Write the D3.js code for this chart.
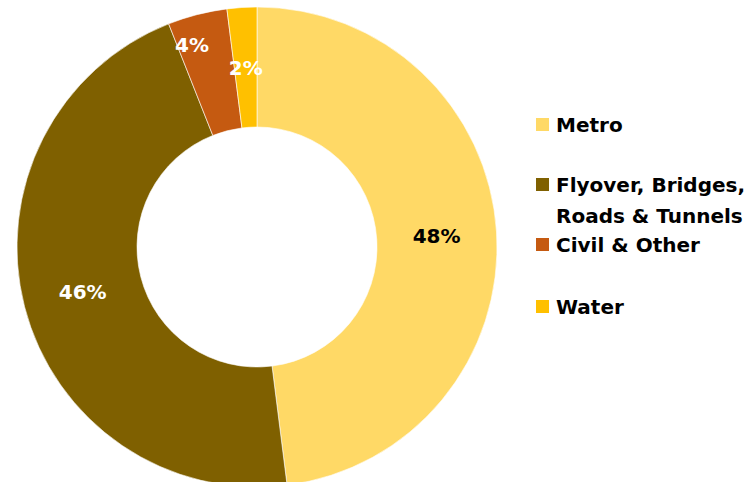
<!DOCTYPE html>
<html>
<head>
<meta charset="utf-8">
<script src="https://cdn.jsdelivr.net/npm/d3@7"></script>
<style>
  html, body { margin: 0; padding: 0; background: #fff; }
  svg { display: block; }
  text { font-family: "DejaVu Sans", sans-serif; font-weight: bold; }
</style>
</head>
<body>
<svg id="chart" width="751" height="482"></svg>
<script>
// Share of order book by segment (%)
const categories = ["Metro", "Flyover, Bridges, Roads & Tunnels", "Civil & Other", "Water"];
const values = [48, 46, 4, 2];
const colors = ["#FFD966", "#7F6000", "#C55A11", "#FFC000"];
const labelColors = ["#000000", "#ffffff", "#ffffff", "#ffffff"];
// legend text, split into lines
const legendLines = [["Metro"], ["Flyover, Bridges,", "Roads & Tunnels"], ["Civil & Other"], ["Water"]];

const svg = d3.select("#chart");
const cx = 257, cy = 247, outerR = 240, innerR = 120;

const pie = d3.pie().sort(null).value(d => d)(values);
const arc = d3.arc().innerRadius(innerR).outerRadius(outerR);

const g = svg.append("g").attr("transform", `translate(${cx},${cy})`);

g.selectAll("path.slice")
  .data(pie)
  .join("path")
  .attr("class", "slice")
  .attr("d", arc)
  .attr("fill", (d, i) => colors[i])
  .attr("stroke", "#ffffff")
  .attr("stroke-width", 0.6);

// label radius per slice: small Civil slice label sits nearer the rim
const labelR = i => (i === 2 ? 212 : 180);
g.selectAll("text.pct")
  .data(pie)
  .join("text")
  .attr("class", "pct")
  .attr("transform", (d, i) => {
    const a = (d.startAngle + d.endAngle) / 2 - (i === 2 ? 0.06 : 0);
    const r = labelR(i);
    return `translate(${r * Math.sin(a)},${-r * Math.cos(a)})`;
  })
  .attr("text-anchor", "middle")
  .attr("dy", "0.36em")
  .attr("font-size", 20)
  .attr("fill", (d, i) => labelColors[i])
  .text(d => d.data + "%");

// legend
const legendY = [125, 185, 245, 307];
const legend = svg.append("g");
categories.forEach((c, i) => {
  const row = legend.append("g").attr("transform", `translate(536,${legendY[i]})`);
  row.append("rect")
    .attr("x", 0).attr("y", -7)
    .attr("width", 13).attr("height", 13)
    .attr("fill", colors[i]);
  legendLines[i].forEach((line, j) => {
    row.append("text")
      .attr("x", 20)
      .attr("y", j * 31)
      .attr("dy", "0.36em")
      .attr("font-size", 20)
      .attr("fill", "#000")
      .text(line);
  });
});
</script>
</body>
</html>
